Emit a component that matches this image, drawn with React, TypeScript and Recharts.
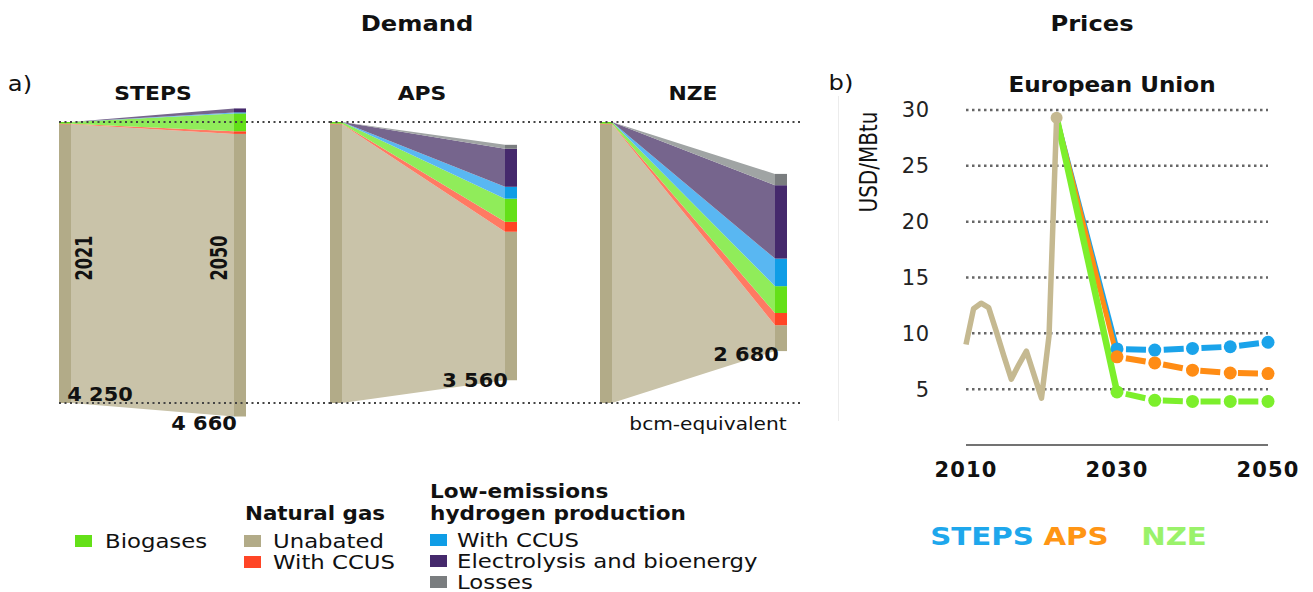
import React from 'react';
import { AreaChart, Area, XAxis, YAxis, ReferenceLine, LineChart, Line, CartesianGrid } from 'recharts';

// ---- Demand, bcm-equivalent (2021 and 2050 by scenario) ----
const demandKeys = ['unabated', 'ngCcus', 'biogases', 'h2Ccus', 'electrolysis', 'losses'];
const flowColors = ['#c9c3a9', '#ff7a63', '#90ec5a', '#59b7f2', '#76658d', '#a0a4a4'];
const barColors = ['#b2ab88', '#ff4526', '#64e018', '#0f9de6', '#45296c', '#7a7d7f'];

const demand2021 = [4215, 10, 25, 0, 0, 0];
const steps2050 = [4275, 40, 270, 15, 60, 0];
const aps2050 = [2245, 150, 350, 180, 575, 60];
const nze2050 = [392, 184, 406, 417, 1110, 171];

const scenarios = ['STEPS', 'APS', 'NZE'];
const total2021Label = '4 250';
const total2050Labels = ['4 660', '3 560', '2 680'];

// ---- Prices, USD/MBtu ----
const histYears = [2010, 2011, 2012, 2013, 2014, 2015, 2016, 2017, 2018, 2019, 2020, 2021, 2022];
const histPrice = [9.0, 12.2, 12.7, 12.3, 10.2, 8.0, 5.9, 7.2, 8.4, 6.3, 4.2, 9.8, 29.3];
const outlookYears = [2030, 2035, 2040, 2045, 2050];
const stepsPrice = [8.6, 8.5, 8.65, 8.8, 9.2];
const apsPrice = [7.9, 7.35, 6.7, 6.45, 6.4];
const nzePrice = [4.75, 4.0, 3.9, 3.9, 3.9];
const priceTicks = [5, 10, 15, 20, 25, 30];
const yearTicks = [2010, 2030, 2050];

const FONT = '"DejaVu Sans", sans-serif';
const TAN = '#c5b991';
const BLUE = '#1aa3ea';
const ORANGE = '#ff8c14';
const GREEN = '#7cef2c';

// layout of the demand panels
const PANEL_W = 187;
const BAR_W = 12 / PANEL_W;
const CHART_TOP = 82;
const CHART_H = 361;
const PX_PER_UNIT = 140.5 / 2125;
const HALF = CHART_H / 2 / PX_PER_UNIT;
const half2021 = demand2021.reduce((a, b) => a + b, 0) / 2;

function panelRows(end: number[]) {
  const xs = [0, BAR_W, 1 - BAR_W, 1];
  return xs.map((x, j) => {
    const row: Record<string, number | null> = { x };
    demandKeys.forEach((k, i) => {
      row['L_' + k] = j < 2 ? demand2021[i] : null;
      row['F_' + k] = j === 1 ? demand2021[i] : j === 2 ? end[i] : null;
      row['R_' + k] = j > 1 ? end[i] : null;
    });
    return row;
  });
}

const DemandPanel = ({ left, width, end }: { left: number; width: number; end: number[] }) => (
  <div style={{ position: 'absolute', left, top: CHART_TOP }}>
    <AreaChart
      width={width}
      height={CHART_H}
      data={panelRows(end)}
      stackOffset="silhouette"
      margin={{ top: 0, right: 0, bottom: 0, left: 0 }}
    >
      <XAxis type="number" dataKey="x" domain={[0, width / PANEL_W]} hide allowDataOverflow />
      <YAxis type="number" domain={[-HALF, HALF]} hide allowDataOverflow />
      {['F', 'L', 'R'].map((g) =>
        demandKeys.map((k, i) => (
          <Area
            key={g + k}
            dataKey={`${g}_${k}`}
            stackId={g}
            type="linear"
            fill={g === 'F' ? flowColors[i] : barColors[i]}
            fillOpacity={1}
            stroke="none"
            dot={false}
            activeDot={false}
            isAnimationActive={false}
          />
        ))
      )}
      <ReferenceLine y={half2021} stroke="#444" strokeWidth={2} strokeDasharray="2 3.5" />
      <ReferenceLine y={-half2021} stroke="#444" strokeWidth={2} strokeDasharray="2 3.5" />
    </AreaChart>
  </div>
);

type TxtProps = {
  x: number;
  y: number;
  size?: number;
  bold?: boolean;
  color?: string;
  anchor?: 'start' | 'middle';
  rotate?: number;
  sx?: number;
  sy?: number;
  children: React.ReactNode;
};

const Txt = ({ x, y, size = 20, bold = false, color = '#111', anchor = 'middle', rotate = 0, sx = 1, sy = 1, children }: TxtProps) => (
  <div
    style={{
      position: 'absolute',
      left: x,
      top: y,
      whiteSpace: 'nowrap',
      lineHeight: 1,
      fontSize: size,
      fontWeight: bold ? 700 : 400,
      color,
      transformOrigin: anchor === 'start' ? 'left center' : 'center',
      transform: `translate(${anchor === 'start' ? '0' : '-50%'}, -50%) rotate(${rotate}deg) scale(${sx}, ${sy})`,
    }}
  >
    {children}
  </div>
);

const Swatch = ({ x, y, color }: { x: number; y: number; color: string }) => (
  <div style={{ position: 'absolute', left: x, top: y - 6, width: 17, height: 12, background: color }} />
);

// price table: history, then each scenario split in a solid leg (2022-2030) and a dashed leg
const priceRows = [
  ...histYears.map((year, i) => {
    const row: Record<string, number> = { year, hist: histPrice[i] };
    if (i === histYears.length - 1) {
      row.histEnd = histPrice[i];
      row.stepsA = histPrice[i];
      row.apsA = histPrice[i];
      row.nzeA = histPrice[i];
    }
    return row;
  }),
  ...outlookYears.map((year, i) => {
    const row: Record<string, number> = { year, stepsB: stepsPrice[i], apsB: apsPrice[i], nzeB: nzePrice[i] };
    if (i === 0) {
      row.stepsA = stepsPrice[0];
      row.apsA = apsPrice[0];
      row.nzeA = nzePrice[0];
    }
    return row;
  }),
];

const DASH = '0 9 20 8.75';

export default function App() {
  const panelLefts = [59, 330, 600];
  const panelWidths = [271, 270, 200];
  const ends = [steps2050, aps2050, nze2050];
  const titleX = [153, 422, 693];

  return (
    <div
      style={{
        position: 'absolute',
        left: 0,
        top: 0,
        width: 1313,
        height: 592,
        overflow: 'hidden',
        background: '#fff',
        fontFamily: FONT,
        color: '#111',
      }}
    >
      {panelLefts.map((l, i) => (
        <DemandPanel key={scenarios[i]} left={l} width={panelWidths[i]} end={ends[i]} />
      ))}

      {/* separator */}
      <div style={{ position: 'absolute', left: 838, top: 96, width: 1, height: 325, background: '#ececec' }} />

      <div style={{ position: 'absolute', left: 840, top: 90 }}>
        <LineChart width={470} height={400} data={priceRows} margin={{ top: 20, right: 42, left: 0, bottom: 0 }}>
          <CartesianGrid
            vertical={false}
            horizontalValues={priceTicks}
            stroke="#666"
            strokeWidth={2.5}
            strokeDasharray="2.5 3.5"
          />
          <XAxis
            type="number"
            dataKey="year"
            domain={[2010, 2050]}
            ticks={yearTicks}
            height={45}
            tickLine={false}
            tickSize={0}
            tickMargin={17}
            axisLine={false}
            tick={{ fontSize: 21, fontWeight: 700, fill: '#111', fontFamily: FONT, letterSpacing: 1.2 }}
          />
          <YAxis
            type="number"
            domain={[0, 30]}
            ticks={priceTicks}
            width={126}
            axisLine={false}
            tickLine={false}
            tickSize={0}
            tickMargin={36}
            tick={{ fontSize: 21, fill: '#222', fontFamily: FONT, letterSpacing: 0.8 }}
          />
          <ReferenceLine y={0} stroke="#444" strokeWidth={1.5} />
          <Line dataKey="stepsA" stroke={BLUE} strokeWidth={5} dot={false} activeDot={false} isAnimationActive={false} />
          <Line dataKey="apsA" stroke={ORANGE} strokeWidth={5} dot={false} activeDot={false} isAnimationActive={false} />
          <Line dataKey="nzeA" stroke={GREEN} strokeWidth={6.5} dot={false} activeDot={false} isAnimationActive={false} />
          <Line
            dataKey="stepsB"
            stroke={BLUE}
            strokeWidth={6}
            strokeDasharray={DASH}
            dot={{ r: 6.5, fill: BLUE, stroke: 'none' }}
            activeDot={false}
            isAnimationActive={false}
          />
          <Line
            dataKey="apsB"
            stroke={ORANGE}
            strokeWidth={6}
            strokeDasharray={DASH}
            dot={{ r: 6.5, fill: ORANGE, stroke: 'none' }}
            activeDot={false}
            isAnimationActive={false}
          />
          <Line
            dataKey="nzeB"
            stroke={GREEN}
            strokeWidth={6}
            strokeDasharray={DASH}
            dot={{ r: 6.5, fill: GREEN, stroke: 'none' }}
            activeDot={false}
            isAnimationActive={false}
          />
          <Line
            dataKey="hist"
            stroke={TAN}
            strokeWidth={5.5}
            strokeLinejoin="round"
            dot={false}
            activeDot={false}
            isAnimationActive={false}
          />
          <Line
            dataKey="histEnd"
            stroke="none"
            dot={{ r: 6, fill: TAN, stroke: 'none' }}
            activeDot={false}
            isAnimationActive={false}
          />
        </LineChart>
      </div>

      {/* headings */}
      <Txt x={417} y={24} size={22} bold sx={1.1}>Demand</Txt>
      <Txt x={1092} y={24} size={22} bold sx={1.1}>Prices</Txt>
      <Txt x={20} y={84} size={22} sx={1.1}>a)</Txt>
      <Txt x={841} y={83} size={22} sx={1.1}>b)</Txt>
      {scenarios.map((s, i) => (
        <Txt key={s} x={titleX[i]} y={93} size={19} bold sx={1.15}>{s}</Txt>
      ))}
      <Txt x={1112} y={85} size={21} bold sx={1.1}>European Union</Txt>
      <Txt x={869} y={162} size={20} rotate={-90} sy={1.2}>USD/MBtu</Txt>

      {/* demand labels */}
      <Txt x={85} y={258} size={17} bold rotate={-90} sx={0.95} sy={1.35}>2021</Txt>
      <Txt x={220} y={258} size={17} bold rotate={-90} sx={0.95} sy={1.35}>2050</Txt>
      <Txt x={100} y={394} size={19} bold sx={1.1}>{total2021Label}</Txt>
      <Txt x={204} y={423} size={19} bold sx={1.1}>{total2050Labels[0]}</Txt>
      <Txt x={475} y={380} size={19} bold sx={1.1}>{total2050Labels[1]}</Txt>
      <Txt x={746} y={354} size={19} bold sx={1.1}>{total2050Labels[2]}</Txt>
      <Txt x={708} y={424} size={18} sx={1.12}>bcm-equivalent</Txt>

      {/* legend */}
      <Swatch x={75} y={541} color={barColors[2]} />
      <Txt x={105} y={541} anchor="start" size={19} sx={1.2}>Biogases</Txt>

      <Txt x={245} y={513} anchor="start" bold sx={1.07}>Natural gas</Txt>
      <Swatch x={244} y={541} color={barColors[0]} />
      <Txt x={273} y={541} anchor="start" size={19} sx={1.2}>Unabated</Txt>
      <Swatch x={244} y={562} color={barColors[1]} />
      <Txt x={273} y={562} anchor="start" size={19} sx={1.2}>With CCUS</Txt>

      <Txt x={430} y={491} anchor="start" bold sx={1.08}>Low-emissions</Txt>
      <Txt x={430} y={513} anchor="start" bold sx={1.08}>hydrogen production</Txt>
      <Swatch x={430} y={540} color={barColors[3]} />
      <Txt x={457} y={540} anchor="start" size={19} sx={1.2}>With CCUS</Txt>
      <Swatch x={430} y={561} color={barColors[4]} />
      <Txt x={457} y={561} anchor="start" size={19} sx={1.2}>Electrolysis and bioenergy</Txt>
      <Swatch x={430} y={582} color={barColors[5]} />
      <Txt x={457} y={582} anchor="start" size={19} sx={1.2}>Losses</Txt>

      {/* scenario key for prices */}
      <Txt x={982} y={537} size={24} bold sx={1.22} color="#1ea7ec">STEPS</Txt>
      <Txt x={1076} y={537} size={24} bold sx={1.22} color="#ff9514">APS</Txt>
      <Txt x={1174} y={537} size={24} bold sx={1.22} color="#9af26a">NZE</Txt>
    </div>
  );
}
